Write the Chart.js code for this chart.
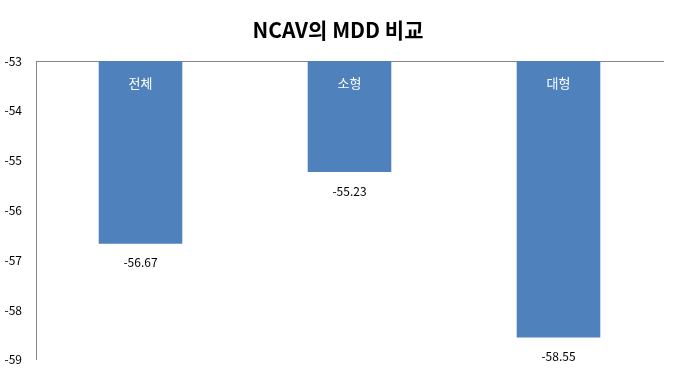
<!DOCTYPE html>
<html>
<head>
<meta charset="utf-8">
<script src="https://cdn.jsdelivr.net/npm/chart.js@4"></script>
<style>
  html, body { margin: 0; padding: 0; background: #fff; }
  #wrap { width: 676px; height: 373px; }
</style>
</head>
<body>
<div id="wrap"><canvas id="mdd" width="676" height="373"></canvas></div>
<script>
const categories = ["전체", "소형", "대형"];
const mddValues = [-56.67, -55.23, -58.55];
const yTicks = [-53, -54, -55, -56, -57, -58, -59];

const FONT = "'Noto Sans CJK KR', 'Noto Sans', sans-serif";

// title + labels on the bars
const barLabels = {
   id: 'barLabels',
   afterDatasetsDraw(chart) {
      const ctx = chart.ctx;
      const meta = chart.getDatasetMeta(0);
      ctx.save();
      ctx.textAlign = 'center';
      ctx.textBaseline = 'middle';
      meta.data.forEach((bar, i) => {
         ctx.fillStyle = '#ffffff';
         ctx.font = '13px ' + FONT;
         ctx.fillText(categories[i], bar.x, chart.chartArea.top + 22);
         ctx.fillStyle = '#000000';
         ctx.font = '12px ' + FONT;
         ctx.fillText(mddValues[i].toFixed(2), bar.x, bar.y + 19);
      });
      // title
      ctx.font = 'bold 21px ' + FONT;
      ctx.fillStyle = '#000000';
      ctx.fillText('NCAV의 MDD 비교', chart.width / 2, 30);
      ctx.restore();
   }
};

new Chart(document.getElementById('mdd'), {
   type: 'bar',
   data: {
      labels: categories,
      datasets: [{
         data: mddValues,
         base: -53,
         backgroundColor: '#4F81BD',
         barPercentage: 0.4,
         categoryPercentage: 1.0
      }]
   },
   options: {
      responsive: false,
      animation: false,
      layout: { padding: { top: 61, right: 13, bottom: 12, left: 0 } },
      plugins: {
         legend: { display: false },
         tooltip: { enabled: false }
      },
      scales: {
         x: {
            position: 'top',
            grid: { display: false },
            ticks: { display: false },
            border: { display: true, color: '#868686', width: 1 },
            afterFit(scale) { scale.height = 0; }
         },
         y: {
            min: -59,
            max: -53,
            grid: { display: false },
            border: { display: true, color: '#868686', width: 1 },
            afterBuildTicks(scale) {
               scale.ticks = yTicks.map(v => ({ value: v }));
            },
            ticks: {
               color: '#000000',
               font: { size: 12, family: FONT },
               padding: 6
            },
            afterFit(scale) { scale.width = 36; }
         }
      }
   },
   plugins: [barLabels]
});
</script>
</body>
</html>
